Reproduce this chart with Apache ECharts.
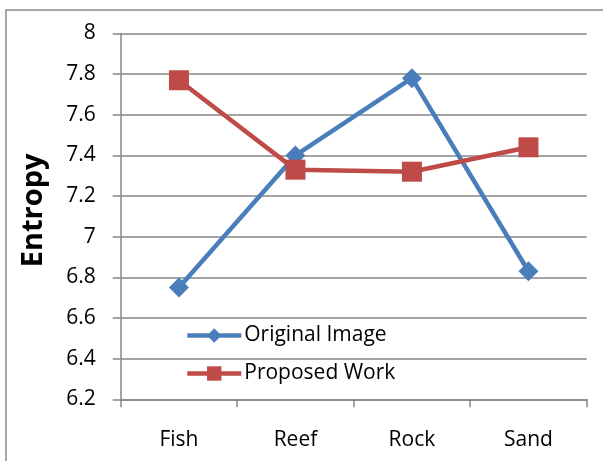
<!DOCTYPE html>
<html><head><meta charset="utf-8">
<script src="https://cdn.jsdelivr.net/npm/echarts@6/dist/echarts.min.js"></script>
<style>html,body{margin:0;padding:0;background:#fff}#c{width:603px;height:461px}</style>
</head><body><div id="c"></div>
<script>
const categories = ['Fish', 'Reef', 'Rock', 'Sand'];
const originalImage = [6.75, 7.40, 7.78, 6.83];
const proposedWork = [7.77, 7.33, 7.32, 7.44];
const yTicks = {min: 6.2, max: 8, interval: 0.2};
const yName = 'Entropy';

const font = '"Open Sans", "Noto Sans", sans-serif';
const blue = '#4a7ebb', red = '#be4b48';
const chart = echarts.init(document.getElementById('c'), null, {renderer: 'canvas'});
chart.setOption({
  animation: false,
  backgroundColor: '#fff',
  graphic: [{
    type: 'rect', silent: true,
    shape: {x: 6, y: 10, width: 700, height: 600},
    style: {fill: 'none', stroke: '#a6a6a6', lineWidth: 2}
  }],
  grid: {left: 120.7, right: 16.3, top: 33.5, bottom: 61.7},
  legend: {
    orient: 'vertical', left: 180, top: 320, itemGap: 17,
    itemWidth: 54, itemHeight: 18,
    textStyle: {fontFamily: font, fontSize: 21, color: '#000', padding: [0,0,0,-2]},
    data: [
      {name: 'Original Image', lineStyle: {width: 4.5, color: blue}},
      {name: 'Proposed Work', lineStyle: {width: 4.5, color: red}}
    ]
  },
  xAxis: {
    type: 'category', data: categories, boundaryGap: true,
    axisLine: {lineStyle: {color: '#868686', width: 1.5}},
    axisTick: {show: true, length: 8, inside: false, lineStyle: {color: '#868686', width: 1.5}},
    axisLabel: {fontFamily: font, fontSize: 21, color: '#000', margin: 30}
  },
  yAxis: {
    type: 'value', min: yTicks.min, max: yTicks.max, interval: yTicks.interval,
    name: yName, nameLocation: 'middle', nameGap: 72,
    nameTextStyle: {fontFamily: font, fontSize: 29, fontWeight: 'bold', color: '#000', padding: [0, 0, 0, 12]},
    axisLine: {show: true, lineStyle: {color: '#868686', width: 1.5}},
    axisTick: {show: true, length: 8, lineStyle: {color: '#868686', width: 1.5}},
    splitLine: {lineStyle: {color: '#868686', width: 1.5}},
    axisLabel: {fontFamily: font, fontSize: 21, color: '#000', margin: 25,
      formatter: v => String(parseFloat(v.toFixed(1)))}
  },
  series: [
    {name: 'Original Image', type: 'line', data: originalImage,
     symbol: 'diamond', symbolSize: 20,
     lineStyle: {color: blue, width: 4.5},
     itemStyle: {color: blue}},
    {name: 'Proposed Work', type: 'line', data: proposedWork,
     symbol: 'rect', symbolSize: 20,
     lineStyle: {color: red, width: 4.5},
     itemStyle: {color: red}}
  ]
});
</script></body></html>
